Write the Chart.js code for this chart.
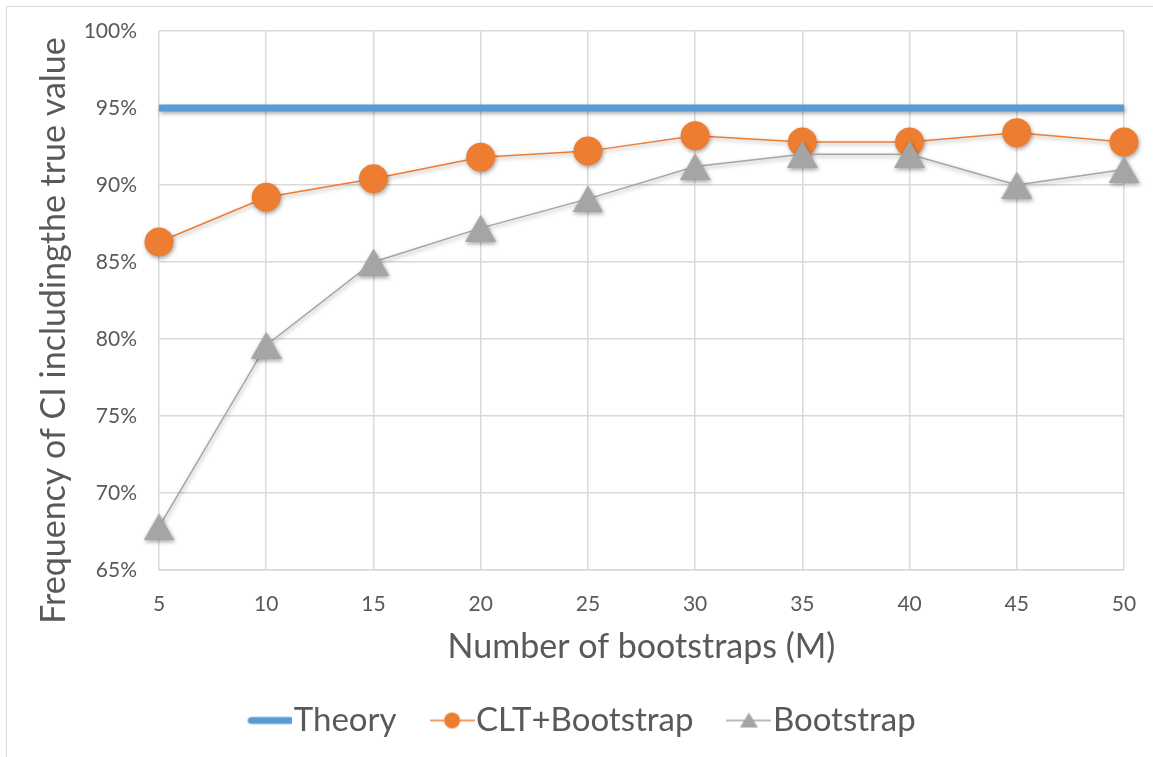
<!DOCTYPE html>
<html>
<head>
<meta charset="utf-8">
<title>Frequency of CI including the true value</title>
<script src="https://cdn.jsdelivr.net/npm/chart.js@4.4.1/dist/chart.umd.min.js"></script>
<style>
    html, body { margin: 0; padding: 0; background: #fff; overflow: hidden; }
    #wrap { position: relative; width: 1153px; height: 757px; }
    #frame {
        position: absolute; left: 6px; top: 6px; width: 1200px; height: 800px;
        border: 1px solid #d9d9d9; box-sizing: border-box;
    }
    #chart { position: absolute; left: 0; top: 0; }
</style>
</head>
<body>
<div id="wrap">
    <div id="frame"></div>
    <canvas id="chart" width="1153" height="757"></canvas>
</div>
<script>
/* ── Data ── */
const categories = ['5', '10', '15', '20', '25', '30', '35', '40', '45', '50'];
const theory = [95, 95, 95, 95, 95, 95, 95, 95, 95, 95];
const cltBootstrap = [86.3, 89.2, 90.4, 91.8, 92.2, 93.2, 92.8, 92.8, 93.4, 92.8];
const bootstrap = [67.8, 79.6, 85.0, 87.2, 89.1, 91.2, 92.0, 92.0, 90.0, 91.0];
const yTicks = [65, 70, 75, 80, 85, 90, 95, 100];

const seriesNames = ['Theory', 'CLT+Bootstrap', 'Bootstrap'];

const BLUE = '#5B9BD5';
const ORANGE = '#ED7D31';
const GREY = '#A5A5A5';
const TEXT = '#595959';
const GRID = '#D9D9D9';
const FONT = 'Lato, "Open Sans", sans-serif';

/* ── Marker / legend icons ── */
function triangleIcon(w, h, color) {
    const c = document.createElement('canvas');
    c.width = w; c.height = h;
    const g = c.getContext('2d');
    g.fillStyle = color;
    g.beginPath();
    g.moveTo(w / 2, 0);
    g.lineTo(w, h);
    g.lineTo(0, h);
    g.closePath();
    g.fill();
    return c;
}

function legendIcon(kind) {
    const w = 45, h = 30;
    const c = document.createElement('canvas');
    c.width = w; c.height = h;
    const g = c.getContext('2d');
    const cy = h / 2;
    if (kind === 'theory') {
        g.strokeStyle = BLUE;
        g.lineWidth = 7;
        g.lineCap = 'round';
        g.beginPath(); g.moveTo(4, cy); g.lineTo(w - 2, cy); g.stroke();
    } else if (kind === 'clt') {
        g.strokeStyle = ORANGE;
        g.lineWidth = 1.5;
        g.beginPath(); g.moveTo(0, cy); g.lineTo(w, cy); g.stroke();
        g.fillStyle = ORANGE;
        g.beginPath(); g.arc(w / 2, cy, 8, 0, Math.PI * 2); g.fill();
    } else {
        g.strokeStyle = GREY;
        g.lineWidth = 1.5;
        g.beginPath(); g.moveTo(0, cy); g.lineTo(w, cy); g.stroke();
        g.fillStyle = GREY;
        g.beginPath();
        g.moveTo(w / 2, cy - 8); g.lineTo(w / 2 + 9, cy + 7); g.lineTo(w / 2 - 9, cy + 7);
        g.closePath(); g.fill();
    }
    return c;
}

const triMarker = triangleIcon(31, 27, GREY);
const legendIcons = [legendIcon('theory'), legendIcon('clt'), legendIcon('boot')];

/* ── Soft drop shadow like the Office chart ── */
const shadowPlugin = {
    id: 'softShadow',
    beforeDatasetsDraw(chart) {
        const c = chart.ctx;
        c.save();
        c.shadowColor = 'rgba(0,0,0,0.35)';
        c.shadowBlur = 4;
        c.shadowOffsetX = 1;
        c.shadowOffsetY = 2;
    },
    afterDatasetsDraw(chart) {
        chart.ctx.restore();
    },
};

/* ── Nudge legend and y title to where Office put them ── */
const placementPlugin = {
    id: 'placement',
    afterLayout(chart) {
        chart.legend.left += 27;
        chart.legend.right += 27;

        const y = chart.scales.y;
        if (!y._origDrawTitle) {
            y._origDrawTitle = y.drawTitle;
            y.drawTitle = function () {
                this.ctx.save();
                this.ctx.translate(0, 30);
                this._origDrawTitle();
                this.ctx.restore();
            };
        }
    },
};

new Chart(document.getElementById('chart'), {
    type: 'line',
    data: {
        labels: categories,
        datasets: [
            {
                label: seriesNames[0],
                data: theory,
                borderColor: BLUE,
                borderWidth: 7,
                pointRadius: 0,
                tension: 0,
                order: 2,
                clip: false,
            },
            {
                label: seriesNames[1],
                data: cltBootstrap,
                borderColor: ORANGE,
                backgroundColor: ORANGE,
                borderWidth: 1.5,
                pointStyle: 'circle',
                pointRadius: 14.5,
                pointBorderWidth: 0,
                tension: 0,
                order: 1,
                clip: false,
            },
            {
                label: seriesNames[2],
                data: bootstrap,
                borderColor: GREY,
                backgroundColor: GREY,
                borderWidth: 1.5,
                pointStyle: triMarker,
                pointRadius: 15,
                tension: 0,
                order: 0,
                clip: false,
            },
        ],
    },
    options: {
        responsive: false,
        animation: false,
        events: [],
        layout: { padding: { top: 31, right: 29, left: 0, bottom: 10 } },
        scales: {
            x: {
                grid: { color: GRID, lineWidth: 1.5, drawTicks: false },
                border: { color: GRID, width: 1.5 },
                ticks: { color: TEXT, font: { family: FONT, size: 21 }, padding: 22, maxRotation: 0 },
                title: {
                    display: true,
                    text: 'Number of bootstraps (M)',
                    color: TEXT,
                    font: { family: FONT, size: 34 },
                    padding: { top: 0, bottom: -11 },
                },
                afterFit(scale) {
                    scale.height = 86;
                    scale.paddingLeft = 0;
                    scale.paddingRight = 0;
                },
            },
            y: {
                min: 65,
                max: 100,
                grid: { color: GRID, lineWidth: 1.5, drawTicks: false },
                border: { display: false },
                afterBuildTicks(scale) { scale.ticks = yTicks.map((v) => ({ value: v })); },
                ticks: {
                    color: TEXT,
                    font: { family: FONT, size: 21 },
                    padding: 22,
                    callback: (v) => v + '%',
                },
                title: {
                    display: true,
                    text: 'Frequency of CI includingthe true value',
                    color: TEXT,
                    font: { family: FONT, size: 34 },
                    padding: { top: 34, bottom: 0 },
                },
                afterFit(scale) {
                    scale.width = 159;
                    scale.paddingTop = 0;
                    scale.paddingBottom = 0;
                },
            },
        },
        plugins: {
            tooltip: { enabled: false },
            legend: {
                position: 'bottom',
                labels: {
                    usePointStyle: true,
                    pointStyleWidth: 15,
                    padding: 48,
                    color: TEXT,
                    font: { family: FONT, size: 33 },
                    generateLabels: (chart) =>
                        chart.data.datasets.map((ds, i) => ({
                            text: ds.label,
                            pointStyle: legendIcons[i],
                            fillStyle: 'transparent',
                            strokeStyle: 'transparent',
                            lineWidth: 0,
                            fontColor: TEXT,
                            hidden: false,
                            datasetIndex: i,
                        })),
                },
            },
        },
    },
    plugins: [shadowPlugin, placementPlugin],
});
</script>
</body>
</html>
